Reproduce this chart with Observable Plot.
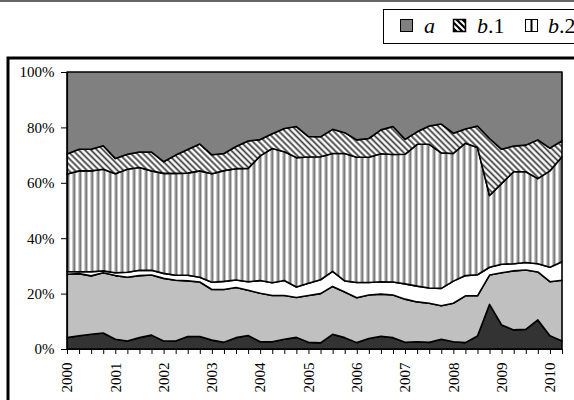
<!DOCTYPE html>
<html>
<head>
<meta charset="utf-8">
<script src="https://cdn.jsdelivr.net/npm/d3@7"></script>
<script src="https://cdn.jsdelivr.net/npm/@observablehq/plot@0.6"></script>
<style>
html, body { margin: 0; padding: 0; background: #fff; overflow: hidden; }
#wrap { position: relative; width: 574px; height: 400px; overflow: hidden; background: #fff; }
#wrap svg { position: absolute; left: 0; top: 0; }
</style>
</head>
<body>
<svg width="0" height="0" style="position:absolute">
  <defs>
    <pattern id="pv" patternUnits="userSpaceOnUse" width="6" height="6">
      <rect width="6" height="6" fill="#fff"/>
      <rect x="0.5" width="1" height="6" fill="#9a9a9a"/>
      <rect x="1.5" width="1.4" height="6" fill="#666"/>
      <rect x="2.9" width="0.8" height="6" fill="#a8a8a8"/>
    </pattern>
    <pattern id="pd" patternUnits="userSpaceOnUse" width="4.3" height="10" patternTransform="rotate(-45)">
      <rect width="4.3" height="10" fill="#fff"/>
      <rect x="0" width="0.6" height="10" fill="#999"/>
      <rect x="0.6" width="1.4" height="10" fill="#3c3c3c"/>
      <rect x="2.0" width="0.6" height="10" fill="#999"/>
    </pattern>
  </defs>
</svg>
<div id="wrap">
  <svg id="deco" width="574" height="400">
    <rect x="0" y="0" width="574" height="2" fill="#666"/>
    <path d="M8,400 V58 H574" fill="none" stroke="#000" stroke-width="3"/>
    <rect x="383.5" y="9.5" width="300" height="34" fill="#fff" stroke="#000" stroke-width="1"/>
  </svg>
</div>
<script>
// ---- data (quarterly shares, %, bottom layer first) ----
const startYear = 2000;
const yearTicks = [2000, 2001, 2002, 2003, 2004, 2005, 2006, 2007, 2008, 2009, 2010];
const yTicks = [0, 20, 40, 60, 80, 100];

const seriesD  = [4.1,4.8,5.3,5.8,3.5,2.9,4.1,5.0,2.9,2.9,4.5,4.5,3.2,2.4,4.1,4.9,2.6,2.6,3.5,4.2,2.4,2.2,5.3,4.1,2.3,3.8,4.6,4.1,2.4,2.6,2.4,3.5,2.6,2.3,4.7,16.1,8.7,6.9,7.1,10.5,4.8,2.9];
const seriesC  = [22.9,22.4,21.1,21.7,23.0,23.0,22.4,21.7,22.6,21.9,20.1,19.7,18.3,19.1,18.1,16.3,17.5,16.7,15.8,14.4,16.9,17.8,17.3,16.5,16.2,15.7,15.2,15.4,15.6,14.4,14.1,12.1,13.9,16.9,14.5,10.6,18.8,21.3,21.4,17.3,19.5,21.9];
const seriesB3 = [1.0,0.7,1.5,0.7,1.0,1.8,1.9,1.7,1.8,1.8,2.0,1.7,2.6,2.9,2.7,3.1,4.6,4.6,5.4,3.8,4.4,5.0,5.4,4.0,5.5,4.5,4.5,4.7,5.5,5.7,5.5,6.3,8.0,7.3,7.6,2.8,3.1,2.6,2.7,3.0,5.2,6.7];
const seriesB2 = [35.2,36.4,36.4,36.7,35.8,37.2,37.1,35.9,36.1,36.8,36.9,38.4,39.2,40.0,40.2,40.9,45.0,48.5,46.5,46.7,45.6,44.4,42.6,46.0,45.2,45.2,46.2,46.0,46.8,51.2,51.9,48.9,46.1,47.8,45.9,25.9,29.2,33.2,32.8,30.7,34.8,37.9];
const seriesB1 = [7.2,7.8,7.8,8.5,5.5,5.4,5.6,6.8,4.2,6.6,8.5,9.7,6.8,6.2,8.0,9.9,5.9,5.3,8.4,11.2,7.4,7.2,8.7,7.5,6.3,6.8,8.6,10.1,5.4,4.5,6.6,10.4,7.3,5.1,7.8,20.6,12.3,9.3,9.6,14.0,8.2,5.8];
const seriesA  = [29.6,27.9,27.9,26.6,31.2,29.7,28.9,28.9,32.4,30.0,28.0,26.0,29.9,29.4,26.9,24.9,24.4,22.3,20.4,19.7,23.3,23.4,20.7,21.9,24.5,24.0,20.9,19.7,24.3,21.6,19.5,18.8,22.1,20.6,19.5,24.0,27.9,26.7,26.4,24.5,27.5,24.8];

const stackOrder = ["d", "c", "b.3", "b.2", "b.1", "a"];
const fills = ["#333333", "#c0c0c0", "#ffffff", "url(#pv)", "url(#pd)", "#808080"];
const seriesValues = [seriesD, seriesC, seriesB3, seriesB2, seriesB1, seriesA];

const rows = [];
stackOrder.forEach((name, k) => {
  seriesValues[k].forEach((v, i) => rows.push({x: startYear + i / 4, series: name, value: v}));
});
const quarterTicks = seriesA.map((_, i) => startYear + i / 4);

const chart = Plot.plot({
  width: 574,
  height: 400,
  marginLeft: 67,
  marginRight: 12,
  marginTop: 72,
  marginBottom: 51,
  x: {domain: [startYear, quarterTicks[quarterTicks.length - 1]], axis: null, label: null},
  y: {domain: [0, 100], axis: null, label: null},
  color: {domain: stackOrder, range: fills},
  style: {fontFamily: "'Liberation Serif','Times New Roman',serif", fontSize: "15px", background: "transparent", color: "#000"},
  marks: [
    Plot.areaY(rows, Plot.stackY({
      x: "x", y: "value", z: "series", fill: "series", order: stackOrder,
      stroke: "#000", strokeWidth: 1.6, strokeLinejoin: "round"
    })),
    Plot.ruleY([0], {stroke: "#000", strokeWidth: 1.2}),
    Plot.ruleX([startYear], {stroke: "#000", strokeWidth: 1.2}),
    Plot.axisY({ticks: yTicks, tickSize: 6, tickPadding: 7, tickFormat: d => d + "%", stroke: "#000", fontSize: 15, label: null}),
    Plot.axisX({ticks: quarterTicks, tickSize: 5, tickFormat: () => "", stroke: "#000", label: null}),
    Plot.text(yearTicks, {x: d => d, y: 0, text: d => String(d), rotate: -90, textAnchor: "end", lineAnchor: "middle", dy: 13, fontSize: 15, fill: "#000"})
  ]
});
document.getElementById("wrap").appendChild(chart);

// legend (cut by the right edge, as in the reference)
const legendItems = [
  {label: "a", suffix: "", fill: "#808080", kind: "solid"},
  {label: "b", suffix: ".1", fill: "#000", kind: "diag"},
  {label: "b", suffix: ".2", fill: "#fff", kind: "vert"}
];
const ns = "http://www.w3.org/2000/svg";
const leg = document.createElementNS(ns, "svg");
leg.setAttribute("width", 574); leg.setAttribute("height", 60);
const itemX = [400, 453, 525];
const textX = [424, 477, 548];
legendItems.forEach((it, k) => {
  const g = document.createElementNS(ns, "g");
  const x0 = itemX[k] + 0.5, y0 = 19.5;
  let html = `<rect x="${x0}" y="${y0}" width="12" height="12" fill="${it.fill}" stroke="#000" stroke-width="1"/>`;
  if (it.kind === "diag") {
    html += `<clipPath id="lc${k}"><rect x="${x0}" y="${y0}" width="12" height="12"/></clipPath>`;
    html += `<g clip-path="url(#lc${k})" stroke="#fff" stroke-width="2">
      <line x1="${x0 - 6}" y1="${y0}" x2="${x0 + 6}" y2="${y0 + 12}"/>
      <line x1="${x0}" y1="${y0}" x2="${x0 + 12}" y2="${y0 + 12}"/>
      <line x1="${x0 + 6}" y1="${y0}" x2="${x0 + 18}" y2="${y0 + 12}"/></g>`;
    html += `<rect x="${x0}" y="${y0}" width="12" height="12" fill="none" stroke="#000" stroke-width="1.5"/>`;
  } else if (it.kind === "vert") {
    html += `<line x1="${x0 + 6}" y1="${y0}" x2="${x0 + 6}" y2="${y0 + 12}" stroke="#000" stroke-width="2"/>`;
  }
  html += `<text x="${textX[k]}" y="33" font-family="'Liberation Serif','Times New Roman',serif" font-size="22" fill="#000"><tspan font-style="italic">${it.label}</tspan>${it.suffix}</text>`;
  g.innerHTML = html;
  leg.appendChild(g);
});
document.getElementById("wrap").appendChild(leg);
</script>
</body>
</html>
